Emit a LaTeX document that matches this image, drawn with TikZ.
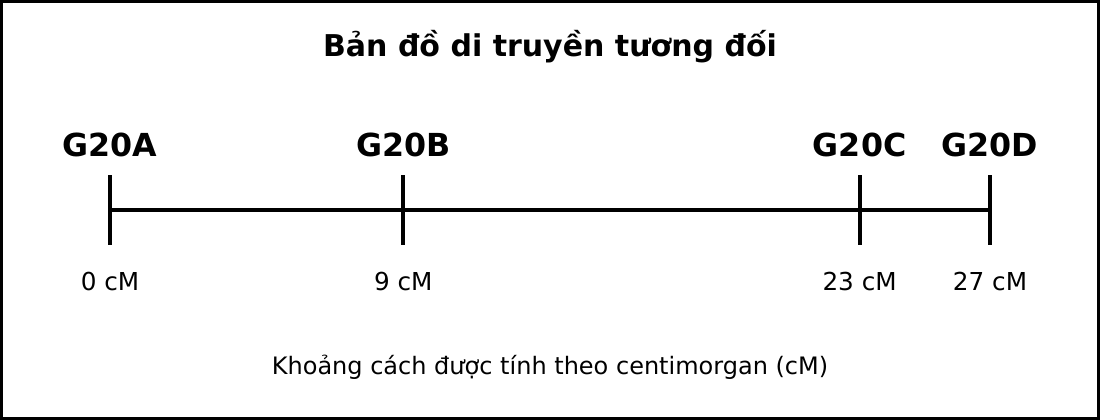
\documentclass[tikz,border=0pt]{standalone}
\usepackage{fontspec}
\setmainfont{DejaVu Sans}
\usetikzlibrary{positioning, calc}

\begin{document}
\begin{tikzpicture}[x=1pt, y=-1pt,
  frame/.style={draw, line width=3pt},
  axisline/.style={draw, line width=4.5pt},
  tickline/.style={draw, line width=4pt},
  title/.style={font=\bfseries\fontsize{30}{36}\selectfont, anchor=base},
  marker/.style={font=\bfseries\fontsize{31.7}{38}\selectfont, anchor=base},
  dist/.style={font=\fontsize{24.7}{29}\selectfont, anchor=base},
  note/.style={font=\fontsize{24}{29}\selectfont, anchor=base}]

\useasboundingbox (0,0) rectangle (1100,420);
\draw[frame] (1.5,1.5) rectangle (1098.5,418.5);

% TITLE

\node[title] (maptitle) at (550,57) {Bản đồ di truyền tương đối};

% MARKERS

\coordinate (A) at (110,210);
\coordinate (B) at (403.3,210);
\coordinate (C) at (859.6,210);
\coordinate (D) at (990,210);

\draw[axisline] (A) -- (D);

\draw[tickline] ($(A) + (0,-35)$) -- ($(A) + (0,35)$);
\draw[tickline] ($(B) + (0,-35)$) -- ($(B) + (0,35)$);
\draw[tickline] ($(C) + (0,-35)$) -- ($(C) + (0,35)$);
\draw[tickline] ($(D) + (0,-35)$) -- ($(D) + (0,35)$);

\node[marker] (Atitle) at ($(A) + (0,-54)$) {G20A};
\node[marker] (Btitle) at ($(B) + (0,-54)$) {G20B};
\node[marker] (Ctitle) at ($(C) + (0,-54)$) {G20C};
\node[marker] (Dtitle) at ($(D) + (0,-54)$) {G20D};

% DISTANCES

\node[dist] (Adist) at ($(A) + (0,80)$) {0 cM};
\node[dist] (Bdist) at ($(B) + (0,80)$) {9 cM};
\node[dist] (Cdist) at ($(C) + (0,80)$) {23 cM};
\node[dist] (Ddist) at ($(D) + (0,80)$) {27 cM};

\node[note] (unitnote) at (550,374) {Khoảng cách được tính theo centimorgan (cM)};

\end{tikzpicture}
\end{document}
